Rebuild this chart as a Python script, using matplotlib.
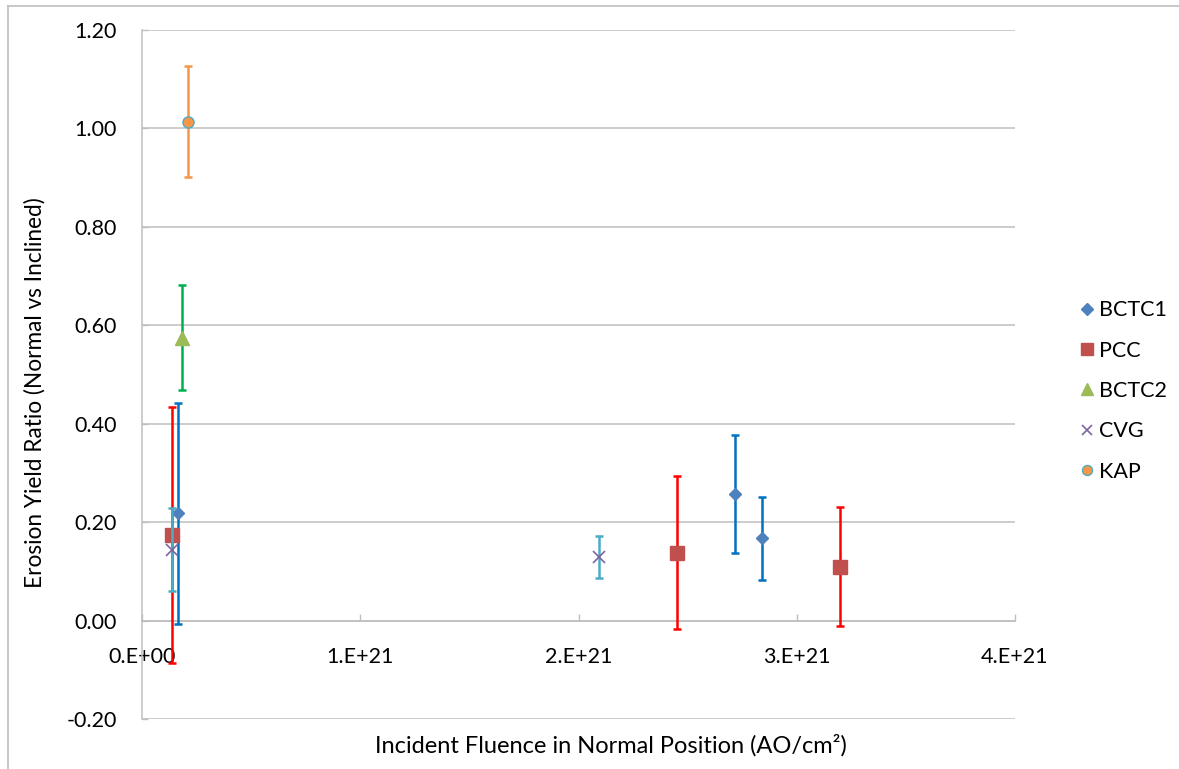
import matplotlib
matplotlib.use('Agg')
import matplotlib.pyplot as plt
from matplotlib.lines import Line2D

plt.rcParams['font.family'] = ['Lato', 'DejaVu Sans']

# values (x = fluence in AO/cm2, y = erosion yield ratio)
bctc1_x = [1.65e20, 2.716e21, 2.84e21]
bctc1_y = [0.218, 0.258, 0.167]
bctc1_err = [0.225, 0.120, 0.085]

pcc_x = [1.38e20, 2.453e21, 3.20e21]
pcc_y = [0.173, 0.138, 0.109]
pcc_err = [0.260, 0.155, 0.121]

bctc2_x = [1.85e20]
bctc2_y = [0.575]
bctc2_err = [0.107]

cvg_x = [1.36e20, 2.096e21]
cvg_y = [0.144, 0.129]
cvg_err = [0.084, 0.042]

kap_x = [2.12e20]
kap_y = [1.014]
kap_err = [0.113]

x_ticks = [0, 1e21, 2e21, 3e21, 4e21]
x_tick_labels = ['0.E+00', '1.E+21', '2.E+21', '3.E+21', '4.E+21']
y_ticks = [-0.2, 0.0, 0.2, 0.4, 0.6, 0.8, 1.0, 1.2]

W, H = 1179, 769
fig = plt.figure(figsize=(W / 100, H / 100), dpi=100)
ax = fig.add_axes([142 / W, 1 - 719 / H, (1015 - 142) / W, (719 - 30) / H])

grid_c = '#BFBFBF'
styles = [
    # name, x, y, err, marker, size, face, edge, errcolor
    ('BCTC1', bctc1_x, bctc1_y, bctc1_err, 'D', 6.5, '#4F81BD', '#4F81BD', '#0070C0'),
    ('PCC', pcc_x, pcc_y, pcc_err, 's', 9.5, '#C0504D', '#C0504D', '#FF0000'),
    ('BCTC2', bctc2_x, bctc2_y, bctc2_err, '^', 10, '#9BBB59', '#9BBB59', '#00B050'),
    ('CVG', cvg_x, cvg_y, cvg_err, 'x', 8, '#8064A2', '#8064A2', '#4BACC6'),
    ('KAP', kap_x, kap_y, kap_err, 'o', 8, '#F79646', '#4BACC6', '#F79646'),
]

handles = []
for i, (name, x, y, err, mk, ms, fc, ec, errc) in enumerate(styles):
    z = 3 + i * 2
    ax.errorbar(x, y, yerr=err, fmt='none', ecolor=errc, elinewidth=1.8,
                capsize=2.6, capthick=1.8, zorder=z)
    mew = 1.2 if mk == 'x' else 1.0
    ax.plot(x, y, linestyle='none', marker=mk, markersize=ms,
            markerfacecolor=fc, markeredgecolor=ec, markeredgewidth=mew,
            color=fc, zorder=z + 1)
    handles.append(Line2D([], [], linestyle='none', marker=mk,
                          markersize=ms * 0.9, markerfacecolor=fc,
                          markeredgecolor=ec, markeredgewidth=mew, label=name))

ax.set_xlim(0, 4e21)
ax.set_ylim(-0.2, 1.2)
ax.set_xticks(x_ticks)
ax.set_xticklabels(x_tick_labels)
ax.set_yticks(y_ticks)
ax.set_yticklabels(['%.2f' % v for v in y_ticks])

for yv in y_ticks:
    ax.axhline(yv, color=grid_c, lw=1.1, zorder=1)

for s in ['top', 'right']:
    ax.spines[s].set_visible(False)
ax.spines['bottom'].set_position(('data', 0))
ax.spines['bottom'].set_color(grid_c)
ax.spines['bottom'].set_linewidth(1.1)
ax.spines['left'].set_color(grid_c)
ax.spines['left'].set_linewidth(1.1)

ax.tick_params(axis='x', direction='in', length=5, width=1, color=grid_c,
               pad=19, labelsize=15.5, labelcolor='black')
ax.tick_params(axis='y', direction='in', length=4.5, width=1, color=grid_c,
               pad=18, labelsize=15.5, labelcolor='black')

fig.text(35 / W, 1 - 393 / H, 'Erosion Yield Ratio (Normal vs Inclined)',
         rotation=90, ha='center', va='center', fontsize=16.3)
fig.text(611 / W, 1 - 745 / H, 'Incident Fluence in Normal Position (AO/cm²)',
         ha='center', va='center', fontsize=17)

leg = ax.legend(handles=handles, loc='center left',
                bbox_to_anchor=(1079 / W, 1 - 391 / H),
                bbox_transform=fig.transFigure, frameon=False,
                borderpad=0, borderaxespad=0, handlelength=0.7,
                handletextpad=0.25, labelspacing=0.95, fontsize=15.5)

# outer chart border (only left and top edges visible)
fig.add_artist(Line2D([8 / W, 8 / W], [0, 1 - 6 / H], transform=fig.transFigure,
                      color=grid_c, lw=1.2))
fig.add_artist(Line2D([8 / W, 1], [1 - 6 / H, 1 - 6 / H], transform=fig.transFigure,
                      color=grid_c, lw=1.2))

fig.savefig('out.png', dpi=100)
